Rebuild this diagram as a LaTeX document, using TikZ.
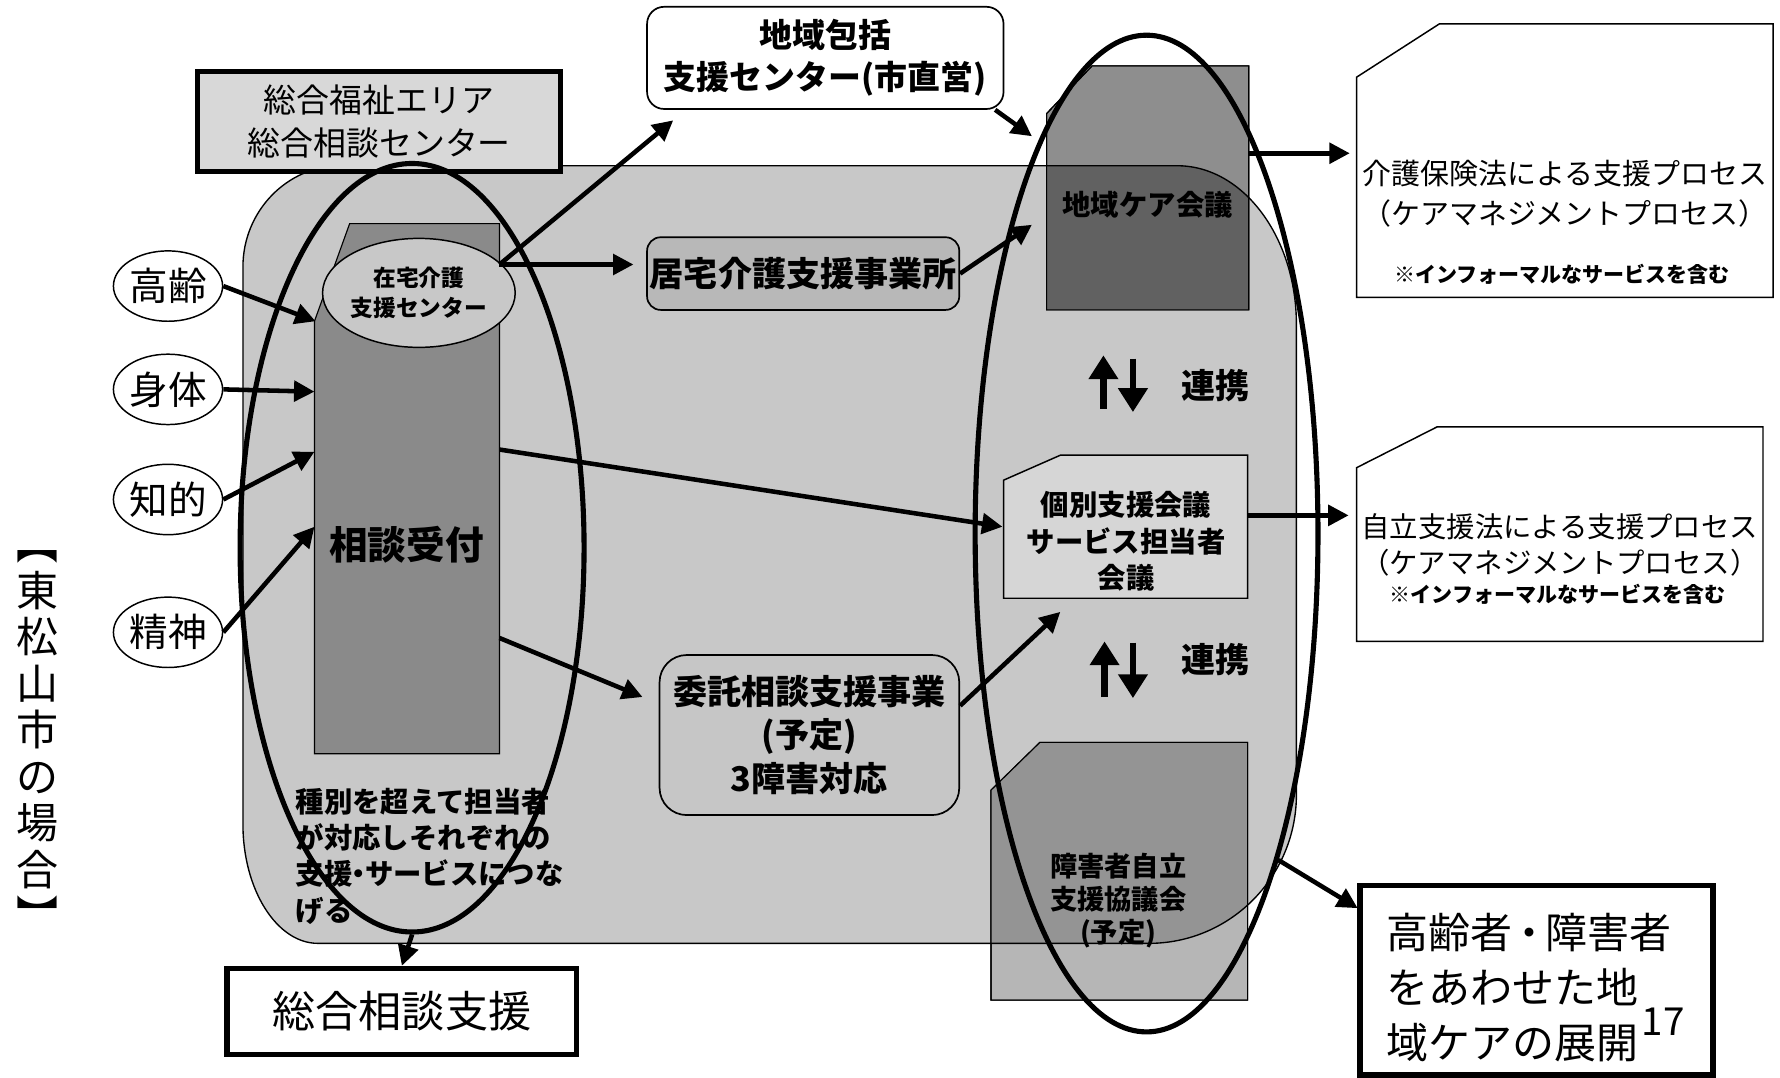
\documentclass[tikz,border=0pt]{standalone}
\usepackage{fontspec}
\setmainfont{Noto Sans CJK JP}
\usetikzlibrary{arrows.meta,shapes.geometric}
\definecolor{regionG}{HTML}{C8C8C8}
\definecolor{sodanG}{HTML}{8A8A8A}
\definecolor{keaUp}{HTML}{8E8E8E}
\definecolor{keaIn}{HTML}{616161}
\definecolor{shoIn}{HTML}{949494}
\definecolor{shoOut}{HTML}{B6B6B6}
\definecolor{lightG}{HTML}{D8D8D8}
\definecolor{kyoG}{HTML}{B8B8B8}
\definecolor{itakuG}{HTML}{C6C6C6}
\definecolor{zaiG}{HTML}{C8C8C8}
\definecolor{kobeG}{HTML}{D6D6D6}
\newcommand{\fsz}[2]{\fontsize{#1pt}{#2pt}\selectfont}
\newcommand{\ndot}{\hspace{-0.28em}・\hspace{-0.28em}}
\newcommand{\mdot}{\hspace{-0.1em}・\hspace{-0.1em}}
\tikzset{
  arr/.style={line width=4pt, -{Triangle[length=18pt,width=18pt]}},
  bigarr/.style={line width=6pt, -{Triangle[length=21pt,width=25pt]}},
  ovl/.style={draw, ellipse, line width=1.3pt, fill=white, minimum width=90pt, minimum height=62pt, inner sep=0pt, font=\fsz{34}{40}},
  rbox/.style={draw, line width=1.5pt, inner sep=0pt, align=center},
  heavybox/.style={draw, line width=4.5pt, inner sep=0pt, align=center},
  bigell/.style={draw, ellipse, line width=4.5pt, inner sep=0pt},
  chbox/.style={line width=1.3pt},
}
\begin{document}
\begin{tikzpicture}[x=1pt,y=-1pt]
\useasboundingbox (0,0) rectangle (1568,949);
\fill[white] (0,0) rectangle (1568,949);

% large grey region
\fill[regionG] (300,146) -- (1037,146) .. controls (1095,146) and (1142,209) .. (1142,286) -- (1142,700) .. controls (1142,772) and (1084,831) .. (1012,831) -- (280,831) .. controls (244,831) and (214,784) .. (214,726) -- (214,235) .. controls (214,186) and (253,146) .. (300,146) -- cycle;

% 相談受付 block
\filldraw[fill=sodanG, line width=1pt] (277,283) -- (308,197) -- (440,197) -- (440,664) -- (277,664) -- cycle;

% 地域ケア会議 and 障害者 blocks
\filldraw[fill=keaUp, line width=1pt] (922,100) -- (962,58) -- (1100,58) -- (1100,273) -- (922,273) -- cycle;
\filldraw[fill=shoOut, line width=1pt] (873,696) -- (916,654) -- (1099,654) -- (1099,881) -- (873,881) -- cycle;
\begin{scope}
\clip (300,146) -- (1037,146) .. controls (1095,146) and (1142,209) .. (1142,286) -- (1142,700) .. controls (1142,772) and (1084,831) .. (1012,831) -- (280,831) .. controls (244,831) and (214,784) .. (214,726) -- (214,235) .. controls (214,186) and (253,146) .. (300,146) -- cycle;
\fill[keaIn] (922,100) -- (962,58) -- (1100,58) -- (1100,273) -- (922,273) -- cycle;
\fill[shoIn] (873,696) -- (916,654) -- (1099,654) -- (1099,881) -- (873,881) -- cycle;
\end{scope}
\draw[line width=1pt] (922,100) -- (962,58) -- (1100,58) -- (1100,273) -- (922,273) -- cycle;
\draw[line width=1pt] (873,696) -- (916,654) -- (1099,654) -- (1099,881) -- (873,881) -- cycle;

% 個別支援会議 block
\filldraw[chbox, fill=kobeG] (884,423) -- (934,401) -- (1099,401) -- (1099,527) -- (884,527) -- cycle;

% outline of the region
\draw[line width=1.2pt] (300,146) -- (1037,146) .. controls (1095,146) and (1142,209) .. (1142,286) -- (1142,700) .. controls (1142,772) and (1084,831) .. (1012,831) -- (280,831) .. controls (244,831) and (214,784) .. (214,726) -- (214,235) .. controls (214,186) and (253,146) .. (300,146) -- cycle;

% boxes
\node[ellipse, draw, line width=1.3pt, fill=zaiG, minimum width=132pt, minimum height=96pt, inner sep=0pt, align=center, font=\bfseries\fsz{20}{26}] (zaitaku) at (369,258) {在宅介護\\支援センター};
\node[rbox, fill=white, rounded corners=15pt, minimum width=314pt, minimum height=90pt, font=\bfseries\fsz{29}{37}] (hokatsu) at (727,51) {地域包括\\支援センター(市直営)};
\node[rbox, fill=kyoG, rounded corners=12pt, minimum width=275pt, minimum height=64pt, font=\bfseries\fsz{30}{36}] (kyotaku) at (707.5,241) {居宅介護支援事業所};
\node[rbox, fill=itakuG, rounded corners=24pt, minimum width=264pt, minimum height=141pt, font=\bfseries\fsz{30}{38.5}] (itaku) at (713,647.5) {委託相談支援事業\\(予定)\\3障害対応};
\node[heavybox, fill=lightG, minimum width=320pt, minimum height=88pt, font=\fsz{29}{38}] (fukushi) at (334,107) {総合福祉エリア\\総合相談センター};

% big ellipses
\node[bigell, minimum width=303pt, minimum height=677pt] (lell) at (363,482.5) {};
\node[bigell, minimum width=302pt, minimum height=878pt] (rell) at (1010,470) {};

% texts inside blocks
\node[font=\bfseries\fsz{34}{40}] (sodan) at (358,480) {相談受付};
\node[font=\bfseries\fsz{25}{30}] (kea) at (1011,180) {地域ケア会議};
\node[align=center, font=\bfseries\fsz{25}{32}] (kobetsu) at (992,477) {個別支援会議\\サービス担当者\\会議};
\node[align=center, font=\bfseries\fsz{24}{29}] (shogai) at (985,793) {障害者自立\\支援協議会\\(予定)};
\node[anchor=west, align=left, font=\bfseries\fsz{25}{32}] (shubetsu) at (257,754) {種別を超えて担当者\\が対応しそれぞれの\\支援\ndot サービスにつな\\げる};
\node[font=\bfseries\fsz{30}{36}] (renkei1) at (1071,340) {連携};
\node[font=\bfseries\fsz{30}{36}] (renkei2) at (1071,581) {連携};
\node[align=center, font=\fsz{37}{41}] (title) at (33,653) {︻\\東\\松\\山\\市\\の\\場\\合\\︼};

% category ellipses
\node[ovl] (kourei) at (148,252) {高齢};
\node[ovl] (shintai) at (148,343) {身体};
\node[ovl] (chiteki) at (148,440) {知的};
\node[ovl] (seishin) at (148,557) {精神};

% right boxes
\filldraw[chbox, fill=white] (1195,68) -- (1268,21) -- (1562,21) -- (1562,262) -- (1195,262) -- cycle;
\node[align=center, font=\fsz{25.5}{35}] (kaigo) at (1378.5,170.5) {介護保険法による支援プロセス\\（ケアマネジメントプロセス）};
\node[font=\bfseries\fsz{18.5}{22}] (kaigonote) at (1376,242) {※インフォーマルなサービスを含む};
\filldraw[chbox, fill=white] (1195,412) -- (1266,376) -- (1553,376) -- (1553,565) -- (1195,565) -- cycle;
\node[align=center, font=\fsz{25}{32}] (jiritsu) at (1374,480) {自立支援法による支援プロセス\\（ケアマネジメントプロセス）};
\node[font=\bfseries\fsz{18.5}{22}] (jiritsunote) at (1372,524) {※インフォーマルなサービスを含む};
\node[draw, line width=5pt, fill=white, minimum width=311pt, minimum height=167pt] (boxc) at (1353.5,863.5) {};
\node[anchor=west, align=left, inner sep=0pt, font=\fsz{37}{48.5}] (boxctext) at (1221,870) {高齢者\mdot 障害者\\をあわせた地\\域ケアの展開\hspace{3pt}\smash{\raisebox{20pt}{\fsz{34}{34}17}}};
\node[heavybox, fill=white, minimum width=308pt, minimum height=76pt, font=\fsz{38}{44}] (sogo) at (354,891) {総合相談支援};

% coordinates for connector ends
\coordinate (tK) at (278,283);
\coordinate (tS) at (277,345);
\coordinate (tC) at (277,398);
\coordinate (tM) at (277,464);
\coordinate (sA) at (440,233);
\coordinate (sB) at (440,396);
\coordinate (sC) at (440,562);
\coordinate (tH) at (593,106);
\coordinate (tY) at (558,233);
\coordinate (tKea1) at (909,198);
\coordinate (tKea2) at (909,120);
\coordinate (tKo) at (883,464);
\coordinate (tI) at (566,614);
\coordinate (tKo2) at (934,539);
\coordinate (sKea) at (1100,135);
\coordinate (tA) at (1189,135);
\coordinate (sKo) at (1099,454);
\coordinate (tB) at (1188,454);
\coordinate (tC2) at (1196,800);
\coordinate (u1s) at (972,360);
\coordinate (u1e) at (972,313);
\coordinate (d1s) at (998,316);
\coordinate (d1e) at (998,363);
\coordinate (u2s) at (973,614);
\coordinate (u2e) at (973,565);
\coordinate (d2s) at (998,566);
\coordinate (d2e) at (998,615);

% connectors
\draw[arr] (kourei.east) -- (tK);
\draw[arr] (shintai.east) -- (tS);
\draw[arr] (chiteki.east) -- (tC);
\draw[arr] (seishin.east) -- (tM);
\draw[arr] (sA) -- (tH);
\draw[arr] (sA) -- (tY);
\draw[arr] (kyotaku.east) -- (tKea1);
\draw[arr] (hokatsu.-17) -- (tKea2);
\draw[arr] (sB) -- (tKo);
\draw[arr] (sC) -- (tI);
\draw[arr] (itaku.11) -- (tKo2);
\draw[arr] (sKea) -- (tA);
\draw[arr] (sKo) -- (tB);
\draw[arr] (rell.-68) -- (tC2);
\draw[arr] (lell.south) -- (sogo.north);
\draw[bigarr] (u1s) -- (u1e);
\draw[bigarr] (d1s) -- (d1e);
\draw[bigarr] (u2s) -- (u2e);
\draw[bigarr] (d2s) -- (d2e);
\end{tikzpicture}
\end{document}
